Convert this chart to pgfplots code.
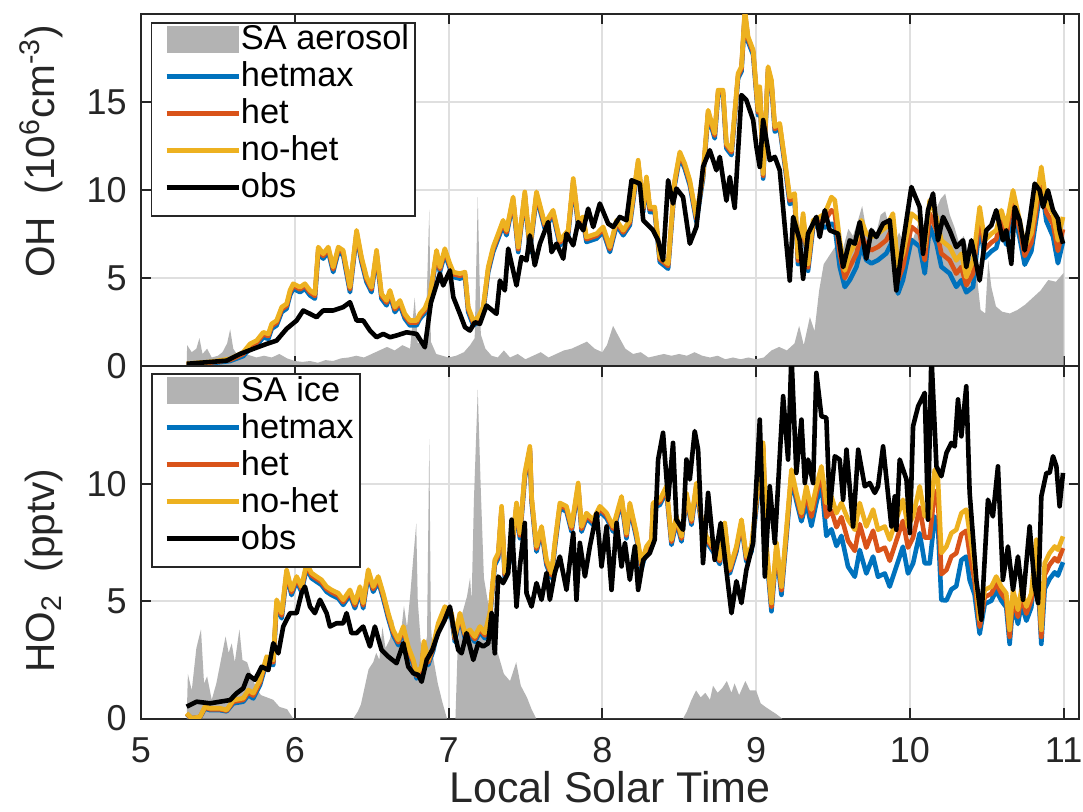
\documentclass[border=0pt]{standalone}
\usepackage{fontspec}
\setmainfont{Liberation Sans}
\usepackage{pgfplots}
\usepackage{pgfplotstable}
\pgfplotsset{compat=1.18}

\definecolor{mblue}{rgb}{0,0.447,0.741}
\definecolor{morange}{rgb}{0.85,0.325,0.098}
\definecolor{myellow}{rgb}{0.929,0.694,0.125}
\definecolor{sagray}{RGB}{179,179,179}
\definecolor{gridc}{RGB}{223,223,223}
\definecolor{axc}{RGB}{38,38,38}

% model runs for OH: time, no-het, het, hetmax
\pgfplotstableread{
x nohet het hetmax
5.297 0.15 0.12 0.09
5.450 0.25 0.21 0.17
5.579 0.42 0.36 0.30
5.665 0.80 0.70 0.58
5.709 1.27 1.16 1.02
5.752 1.46 1.34 1.18
5.795 1.93 1.81 1.65
5.828 1.84 1.72 1.56
5.850 2.41 2.29 2.13
5.882 2.60 2.48 2.32
5.915 3.36 3.24 3.08
5.947 3.55 3.43 3.27
5.969 4.31 4.19 4.03
5.990 4.69 4.57 4.41
6.034 4.49 4.37 4.21
6.066 4.69 4.57 4.41
6.099 4.31 4.19 4.03
6.131 4.12 4.00 3.84
6.153 6.77 6.65 6.49
6.185 6.39 6.27 6.11
6.218 6.77 6.65 6.49
6.250 5.63 5.51 5.35
6.283 6.77 6.65 6.49
6.315 6.58 6.46 6.30
6.359 4.49 4.37 4.21
6.402 7.72 7.60 7.44
6.434 6.20 6.08 5.92
6.467 5.06 4.94 4.78
6.499 4.49 4.37 4.21
6.532 6.58 6.46 6.30
6.564 4.12 4.00 3.84
6.597 3.74 3.62 3.46
6.619 4.31 4.19 4.03
6.651 3.36 3.24 3.08
6.684 3.74 3.62 3.46
6.716 2.98 2.86 2.70
6.749 2.60 2.48 2.32
6.792 2.60 2.48 2.32
6.814 2.98 2.86 2.70
6.846 3.30 3.18 3.02
6.879 4.00 3.88 3.72
6.922 6.58 6.46 6.30
6.944 5.63 5.51 5.35
6.976 6.68 6.56 6.40
7.009 5.82 5.70 5.54
7.031 5.35 5.23 5.07
7.074 5.26 5.14 4.98
7.107 5.35 5.23 5.07
7.128 3.36 3.24 3.08
7.161 2.60 2.48 2.32
7.193 2.79 2.67 2.51
7.225 3.36 3.24 3.08
7.258 5.63 5.51 5.35
7.290 6.77 6.65 6.49
7.323 7.53 7.41 7.25
7.355 8.29 8.17 8.01
7.377 7.72 7.60 7.44
7.420 9.61 9.49 9.33
7.453 6.77 6.65 6.49
7.496 9.90 9.78 9.62
7.529 6.77 6.65 6.49
7.572 9.90 9.78 9.62
7.626 8.10 7.98 7.82
7.680 8.86 8.74 8.58
7.724 7.15 7.03 6.87
7.778 7.72 7.60 7.44
7.811 10.66 10.54 10.38
7.843 8.29 8.17 8.01
7.876 8.48 8.36 8.20
7.897 7.34 7.22 7.06
7.963 7.53 7.41 7.25
8.006 7.91 7.79 7.63
8.049 6.77 6.65 6.49
8.093 8.29 8.17 8.01
8.136 7.72 7.60 7.44
8.179 8.29 8.17 8.01
8.233 11.70 11.58 11.42
8.266 9.04 8.92 8.76
8.287 10.75 10.63 10.47
8.309 9.04 8.92 8.76
8.341 9.04 8.92 8.76
8.374 6.20 6.08 5.92
8.428 5.82 5.70 5.54
8.471 10.56 10.44 10.28
8.504 12.17 12.05 11.89
8.536 11.51 11.39 11.23
8.569 10.56 10.44 10.28
8.612 8.48 8.36 8.20
8.655 10.94 10.82 10.66
8.688 14.54 14.42 14.26
8.731 13.22 13.10 12.94
8.753 15.68 15.56 15.40
8.785 15.68 15.56 15.40
8.807 12.65 12.53 12.37
8.840 12.27 12.15 11.99
8.883 16.63 16.51 16.35
8.905 17.01 16.89 16.73
8.927 20.20 20.08 19.92
8.948 18.71 18.59 18.43
8.981 17.96 17.84 17.68
9.013 14.54 14.42 14.26
9.024 15.87 15.75 15.59
9.046 10.94 10.82 10.66
9.078 17.01 16.89 16.73
9.100 16.25 16.13 15.97
9.122 13.60 13.48 13.32
9.154 13.79 13.67 13.51
9.187 11.70 11.58 11.42
9.219 9.61 9.41 9.21
9.251 9.81 9.61 9.41
9.273 6.20 6.00 5.80
9.306 8.67 8.47 8.27
9.338 5.82 5.62 5.42
9.371 8.29 8.09 7.89
9.414 8.48 8.28 8.08
9.447 8.67 8.27 7.87
9.490 9.61 8.86 8.11
9.512 9.43 8.68 7.93
9.544 7.15 6.40 5.65
9.577 5.44 5.00 4.50
9.609 6.39 5.64 4.89
9.653 7.15 6.40 5.65
9.685 8.29 7.54 6.79
9.717 7.53 6.78 6.03
9.750 7.34 6.59 5.84
9.793 7.53 6.78 6.03
9.847 7.91 7.16 6.41
9.890 8.67 7.92 7.17
9.923 5.63 4.88 4.13
9.955 6.39 5.64 4.89
10.010 8.67 7.92 7.17
10.064 8.29 7.54 6.79
10.097 6.77 6.02 5.27
10.129 9.43 8.68 7.93
10.173 8.48 7.73 6.98
10.205 7.15 6.40 5.65
10.259 6.77 6.02 5.27
10.302 6.01 5.26 4.51
10.335 6.39 5.64 4.89
10.367 5.06 4.60 4.20
10.411 6.01 5.26 4.51
10.454 9.04 8.54 8.04
10.487 7.15 6.65 6.15
10.530 7.53 7.03 6.53
10.562 7.72 7.22 6.72
10.595 8.86 8.36 7.86
10.627 7.91 7.41 6.91
10.671 9.99 9.49 8.99
10.714 8.29 7.79 7.29
10.747 6.77 6.27 5.77
10.790 7.53 7.03 6.53
10.823 9.43 8.93 8.43
10.855 11.32 10.82 10.32
10.888 9.24 8.74 8.24
10.931 8.67 8.07 7.37
10.963 7.15 6.55 5.85
10.996 8.48 7.78 7.08
}\ohmodel

% model runs for HO2: time, no-het, het, hetmax
\pgfplotstableread{
x nohet het hetmax
5.297 0.23 0.21 0.19
5.330 0.01 0.01 0.01
5.384 0.08 0.07 0.06
5.416 0.51 0.47 0.43
5.449 0.44 0.40 0.36
5.514 0.44 0.40 0.36
5.557 0.37 0.34 0.31
5.600 0.79 0.72 0.65
5.665 0.87 0.80 0.72
5.698 1.22 1.12 1.00
5.730 1.08 0.98 0.86
5.774 1.65 1.55 1.43
5.817 2.64 2.54 2.42
5.860 2.50 2.40 2.28
5.882 5.06 4.96 4.84
5.915 4.49 4.39 4.27
5.947 6.34 6.24 6.12
5.979 5.48 5.38 5.26
6.012 6.05 5.95 5.83
6.044 5.62 5.52 5.40
6.077 6.62 6.52 6.40
6.109 6.20 6.10 5.98
6.142 6.05 5.95 5.83
6.174 5.91 5.81 5.69
6.207 5.62 5.52 5.40
6.239 5.48 5.38 5.26
6.283 5.34 5.24 5.12
6.315 5.06 4.96 4.84
6.359 5.48 5.38 5.26
6.391 4.92 4.82 4.70
6.424 5.62 5.52 5.40
6.445 4.92 4.82 4.70
6.478 6.34 6.24 6.12
6.510 5.62 5.52 5.40
6.543 6.05 5.95 5.83
6.575 5.34 5.24 5.12
6.608 4.49 4.39 4.27
6.640 3.78 3.68 3.56
6.673 3.35 3.25 3.13
6.706 3.92 3.82 3.70
6.738 3.07 2.97 2.85
6.771 2.50 2.40 2.28
6.792 1.93 1.83 1.71
6.825 2.21 2.11 1.99
6.840 3.30 3.20 3.08
6.868 2.50 2.40 2.28
6.900 3.10 3.00 2.88
6.933 4.06 3.96 3.84
6.976 4.77 4.67 4.55
7.020 4.49 4.39 4.27
7.041 3.49 3.39 3.27
7.074 4.49 4.39 4.27
7.107 3.64 3.54 3.42
7.139 3.78 3.68 3.56
7.171 3.49 3.39 3.27
7.204 3.92 3.82 3.70
7.236 3.64 3.54 3.42
7.269 4.49 4.39 4.27
7.301 6.76 6.66 6.54
7.323 7.05 6.95 6.83
7.345 9.04 8.94 8.82
7.366 6.20 6.10 5.98
7.410 7.19 7.09 6.97
7.442 9.18 9.08 8.96
7.464 7.90 7.80 7.68
7.496 10.46 10.36 10.24
7.529 11.59 11.49 11.37
7.540 9.46 9.36 9.24
7.572 7.33 7.23 7.11
7.605 8.18 8.08 7.96
7.637 6.76 6.66 6.54
7.670 6.20 6.10 5.98
7.691 7.48 7.38 7.26
7.724 9.18 9.08 8.96
7.767 9.04 8.94 8.82
7.800 8.18 8.08 7.96
7.843 10.03 9.93 9.81
7.865 8.18 8.08 7.96
7.897 8.75 8.65 8.53
7.941 8.47 8.37 8.25
7.984 9.04 8.94 8.82
8.028 8.75 8.65 8.53
8.071 8.18 8.08 7.96
8.125 9.46 9.36 9.24
8.157 7.90 7.80 7.68
8.179 9.18 9.08 8.96
8.222 7.90 7.80 7.68
8.255 6.62 6.52 6.40
8.287 7.33 7.23 7.11
8.320 7.62 7.52 7.40
8.330 9.18 9.08 8.96
8.374 9.32 9.22 9.10
8.417 9.89 9.79 9.67
8.450 7.62 7.52 7.40
8.482 8.61 8.51 8.39
8.515 7.76 7.66 7.54
8.547 9.61 9.51 9.39
8.580 8.47 8.37 8.25
8.612 10.03 9.93 9.81
8.645 8.47 8.37 8.25
8.677 7.76 7.66 7.54
8.720 7.33 7.23 7.11
8.764 6.80 6.70 6.58
8.796 8.33 8.23 8.11
8.829 6.40 6.30 6.18
8.872 7.33 7.23 7.11
8.905 8.47 8.37 8.25
8.937 6.90 6.80 6.68
8.970 7.33 7.23 7.11
9.002 9.32 9.17 8.97
9.046 11.74 11.59 11.39
9.068 7.33 7.18 6.98
9.100 4.92 4.77 4.57
9.133 7.48 7.33 7.13
9.165 5.62 5.47 5.27
9.197 8.04 7.89 7.69
9.230 10.60 10.45 10.25
9.262 9.61 9.46 9.26
9.295 8.75 8.60 8.40
9.327 9.89 9.59 9.19
9.360 8.90 8.60 8.20
9.392 9.89 9.59 9.19
9.425 10.74 10.44 10.04
9.457 9.18 8.58 7.78
9.490 9.46 8.86 8.06
9.523 8.75 8.15 7.35
9.555 9.18 8.58 7.78
9.598 8.47 7.57 6.47
9.642 8.04 7.14 6.04
9.674 9.18 8.28 7.18
9.717 8.18 7.28 6.18
9.761 8.90 8.00 6.90
9.793 8.04 7.14 6.04
9.837 8.18 7.28 6.18
9.869 7.62 6.72 5.62
9.912 8.47 7.57 6.47
9.955 9.32 8.42 7.32
9.988 8.18 7.28 6.18
10.021 8.61 7.71 6.61
10.064 9.89 8.99 7.89
10.097 8.61 7.71 6.61
10.129 8.61 7.71 6.61
10.162 10.60 9.70 8.60
10.183 10.18 9.28 8.18
10.205 7.05 6.15 5.05
10.238 7.33 6.33 5.03
10.270 7.90 6.90 5.50
10.302 8.04 7.04 5.64
10.335 8.75 7.85 6.75
10.367 8.90 8.00 6.90
10.389 7.90 7.00 5.90
10.421 6.48 5.88 5.28
10.454 4.21 3.91 3.61
10.487 5.48 5.18 4.88
10.530 5.62 5.32 5.02
10.562 6.05 5.75 5.45
10.595 5.62 5.32 5.02
10.627 5.34 5.04 4.74
10.649 3.78 3.48 3.18
10.671 5.48 5.18 4.88
10.703 4.63 4.33 4.03
10.725 5.48 5.18 4.88
10.758 4.77 4.47 4.17
10.790 5.34 5.04 4.74
10.823 7.62 7.32 7.02
10.855 3.78 3.48 3.18
10.877 6.62 6.12 5.52
10.909 7.05 6.55 5.95
10.942 7.33 6.83 6.23
10.963 7.19 6.69 6.09
10.996 7.76 7.26 6.66
}\hotwomodel

\pgfplotsset{
  panel/.style={
    scale only axis, width=469pt, height=176.15pt,
    xmin=5, xmax=11.1, ymin=0,
    xtick={5,6,7,8,9,10,11},
    grid=major,
    major grid style={line width=1pt, color=gridc},
    axis line style={line width=1pt, color=axc},
    every tick/.style={line width=1pt, color=axc},
    major tick length=5.2pt,
    tick align=inside,
    /pgf/number format/assume math mode=true,
    tick label style={font=\fontsize{18}{18}\selectfont, text=axc},
    yticklabel style={inner sep=0pt, xshift=-7pt},
    xticklabel style={inner sep=0pt, yshift=-9.2pt},
    label style={text=axc},
    ylabel style={anchor=base, font=\fontsize{20.3}{20.3}\selectfont},
    legend cell align=left,
    legend style={
      at={(axis description cs:0,1)}, anchor=north west,
      draw=axc, line width=0.9pt, fill=white,
      inner xsep=3pt, inner ysep=1.5pt,
      font=\fontsize{17.2}{17.2}\selectfont, text=black,
      row sep=0pt,
      nodes={inner sep=0pt, text height=11pt, text depth=7.5pt},
      /tikz/every even column/.append style={column sep=4.5pt},
    },
  },
  lineimg/.style={legend image code/.code={%
      \path[draw=none, fill=none] (0pt,3.5pt) -- (4.5pt,3.5pt);
      \draw[##1] (4.5pt,3.5pt) -- (40.5pt,3.5pt);}},
  areaimg/.style={legend image code/.code={%
      \path[draw=none, fill=none] (0pt,3.5pt) -- (4.5pt,3.5pt);
      \fill[sagray, draw=none] (4.5pt,-3.25pt) rectangle (40.5pt,10.25pt);}},
  run/.style={line width=2.3pt, line join=round, lineimg},
}

\begin{document}
\begin{tikzpicture}
\useasboundingbox (0,0) rectangle (541.5pt,405.5pt);

% ---------------- OH ----------------
\begin{axis}[panel, at={(70.5pt,222.35pt)},
  ymax=20, ytick={0,5,10,15}, xticklabels={},
  ylabel={OH\ \ (10\textsuperscript{6}cm\textsuperscript{-3})},
  ylabel style={at={(axis description cs:-0.0917,0.61)}},
  legend style={xshift=4.85pt, yshift=-4pt},
]
\addplot[fill=sagray, draw=none, areaimg] table {
5.297 0
5.30 1.2
5.33 0.8
5.36 1.0
5.38 1.6
5.40 0.7
5.43 1.0
5.46 0.5
5.50 0.6
5.53 0.8
5.56 1.3
5.58 2.1
5.60 1.0
5.63 0.6
5.68 0.7
5.75 0.5
5.80 0.6
5.85 0.5
5.90 0.7
5.95 0.45
6.00 0.3
6.05 0.25
6.10 0.3
6.15 0.2
6.20 0.35
6.25 0.3
6.30 0.45
6.35 0.5
6.40 0.6
6.45 0.5
6.50 0.7
6.55 0.9
6.60 1.1
6.65 0.9
6.70 1.2
6.75 1.0
6.78 3.9
6.80 1.3
6.85 1.5
6.875 8.9
6.885 1.4
6.92 0.7
6.96 0.6
7.00 0.5
7.05 0.6
7.10 0.8
7.14 1.2
7.17 1.6
7.19 9.6
7.21 1.8
7.24 1.0
7.28 0.6
7.32 0.5
7.36 0.9
7.40 0.5
7.45 0.7
7.50 0.4
7.55 0.6
7.60 0.8
7.65 0.5
7.70 0.7
7.75 0.9
7.80 1.0
7.85 1.2
7.90 1.4
7.95 1.0
8.00 0.8
8.03 1.2
8.07 2.3
8.10 1.8
8.15 1.0
8.20 0.7
8.25 0.8
8.30 0.5
8.35 0.6
8.40 0.7
8.45 0.6
8.50 0.7
8.55 0.6
8.60 0.8
8.65 0.6
8.70 0.5
8.75 0.6
8.80 0.4
8.85 0.5
8.90 0.4
8.95 0.5
9.00 0.4
9.05 0.5
9.10 0.9
9.15 1.1
9.20 0.9
9.25 1.3
9.28 2.3
9.31 1.2
9.35 2.8
9.38 2.0
9.41 4.3
9.44 5.8
9.47 6.2
9.50 6.6
9.53 7.0
9.56 6.5
9.60 7.8
9.63 7.4
9.66 8.2
9.69 9.1
9.72 7.6
9.75 7.9
9.78 7.5
9.81 8.6
9.84 8.8
9.87 7.8
9.90 6.9
9.93 7.6
9.96 7.0
9.99 7.8
10.02 7.2
10.05 8.0
10.08 7.8
10.11 8.7
10.14 8.2
10.17 8.9
10.20 9.5
10.23 9.8
10.26 8.6
10.29 7.9
10.32 7.0
10.35 7.4
10.38 6.6
10.40 6.0
10.43 5.6
10.46 3.2
10.49 3.0
10.51 6.0
10.53 4.5
10.56 3.4
10.60 3.1
10.65 3.0
10.70 3.2
10.75 3.5
10.80 3.9
10.85 4.3
10.90 4.9
10.95 4.8
11.00 5.3
} \closedcycle;
\addplot[run, mblue]   table[x=x, y=hetmax] {\ohmodel};
\addplot[run, morange] table[x=x, y=het]    {\ohmodel};
\addplot[run, myellow] table[x=x, y=nohet]  {\ohmodel};
\addplot[run, black] table {
5.297 0.14
5.427 0.23
5.557 0.32
5.644 0.70
5.730 0.99
5.817 1.27
5.882 1.46
5.947 2.13
6.012 2.60
6.055 3.17
6.099 2.98
6.142 2.79
6.185 3.17
6.250 3.17
6.315 3.36
6.359 3.64
6.402 2.60
6.445 2.60
6.489 2.03
6.532 1.65
6.575 1.84
6.619 1.65
6.662 1.75
6.727 1.93
6.792 1.84
6.846 1.08
6.885 3.60
6.944 5.26
6.965 4.59
7.009 5.44
7.031 3.93
7.074 2.98
7.107 2.22
7.139 2.03
7.171 2.50
7.204 2.41
7.247 3.45
7.312 2.98
7.334 4.87
7.366 4.31
7.388 6.68
7.420 5.44
7.442 4.59
7.474 6.20
7.507 6.01
7.529 7.43
7.561 5.73
7.594 6.96
7.648 8.19
7.670 6.48
7.702 6.96
7.746 6.11
7.767 7.53
7.811 6.87
7.843 8.19
7.876 7.72
7.908 8.95
7.941 7.91
7.984 9.24
8.038 8.10
8.071 7.91
8.114 8.48
8.157 8.29
8.190 10.56
8.244 10.37
8.266 8.29
8.309 7.91
8.330 7.72
8.363 7.15
8.395 6.01
8.428 10.56
8.460 9.24
8.482 10.09
8.525 9.61
8.569 6.96
8.612 7.91
8.655 11.32
8.699 12.27
8.742 11.13
8.764 11.89
8.807 9.40
8.829 10.75
8.861 9.00
8.905 15.40
8.937 15.11
8.981 13.98
9.002 12.46
9.024 11.32
9.046 13.98
9.089 11.70
9.122 11.89
9.154 11.13
9.187 7.91
9.219 4.87
9.241 8.48
9.284 7.15
9.306 4.97
9.338 7.53
9.392 8.48
9.414 7.34
9.447 8.86
9.479 7.72
9.533 7.53
9.566 5.63
9.609 7.15
9.642 6.96
9.674 8.19
9.717 6.11
9.750 7.72
9.782 7.34
9.826 8.10
9.869 8.29
9.912 4.31
9.945 6.39
10.010 10.18
10.064 9.04
10.086 6.39
10.118 8.86
10.151 9.81
10.183 7.15
10.216 8.48
10.259 7.72
10.302 6.77
10.346 7.15
10.367 5.63
10.400 7.15
10.454 4.87
10.497 7.72
10.530 8.00
10.562 8.86
10.605 7.15
10.627 7.72
10.660 5.82
10.682 9.04
10.714 8.29
10.747 6.58
10.779 8.29
10.812 10.37
10.844 9.99
10.866 9.04
10.898 9.99
10.931 8.86
10.963 8.38
10.974 7.72
10.996 6.96
};
\legend{SA aerosol, hetmax, het, no-het, obs}
\end{axis}

% ---------------- HO2 ----------------
\begin{axis}[panel, at={(70.5pt,46.2pt)},
  ymax=15, ytick={0,5,10},
  xlabel={Local Solar Time},
  xlabel style={at={(axis description cs:0.5,0)}, anchor=north,
    inner sep=0pt, yshift=-26.2pt, font=\fontsize{21.5}{21.5}\selectfont},
  ylabel={HO\textsubscript{2}\ \ (pptv)},
  ylabel style={at={(axis description cs:-0.0917,0.42)}},
  legend style={xshift=4.85pt, yshift=-3.5pt},
]
\addplot[fill=sagray, draw=none, areaimg] table {
5.297 0
5.305 1.9
5.33 1.2
5.36 3.0
5.39 3.8
5.41 1.5
5.43 1.8
5.46 0.8
5.49 1.5
5.52 2.5
5.55 3.5
5.57 2.8
5.59 3.2
5.61 2.4
5.64 3.8
5.66 2.5
5.69 2.4
5.72 1.8
5.75 1.3
5.78 1.0
5.82 0.9
5.86 0.8
5.90 0.5
5.95 0.4
5.99 0
6.38 0
6.41 0.3
6.43 0.6
6.45 1.2
6.48 2.1
6.51 2.4
6.53 2.8
6.55 2.5
6.57 3.9
6.59 3.0
6.62 3.4
6.64 4.2
6.66 3.2
6.69 3.6
6.71 4.8
6.73 3.9
6.75 5.2
6.77 6.8
6.79 8.3
6.80 5.0
6.82 3.2
6.84 2.8
6.86 3.5
6.875 11.9
6.885 4.0
6.90 2.6
6.93 1.5
6.96 0.7
6.99 0
7.045 0
7.06 3.2
7.09 4.5
7.12 5.2
7.14 6.0
7.15 5.0
7.165 9.3
7.19 14.0
7.21 9.7
7.23 6.0
7.26 4.8
7.29 3.5
7.32 2.8
7.36 1.9
7.40 1.6
7.44 2.4
7.47 1.4
7.51 0.9
7.54 0.4
7.57 0
8.525 0
8.55 0.3
8.58 0.8
8.61 1.2
8.64 0.9
8.67 1.1
8.70 0.8
8.72 1.4
8.75 1.1
8.78 1.3
8.81 1.6
8.84 1.1
8.86 1.5
8.89 1.0
8.93 1.6
8.96 1.2
9.00 1.2
9.03 0.65
9.06 0.5
9.09 0.37
9.13 0.2
9.17 0
11.00 0
} \closedcycle;
\addplot[run, mblue]   table[x=x, y=hetmax] {\hotwomodel};
\addplot[run, morange] table[x=x, y=het]    {\hotwomodel};
\addplot[run, myellow] table[x=x, y=nohet]  {\hotwomodel};
\addplot[run, black] table {
5.297 0.51
5.362 0.72
5.449 0.65
5.514 0.72
5.579 0.79
5.622 1.08
5.665 1.29
5.698 1.86
5.741 1.65
5.785 2.21
5.828 2.07
5.860 3.21
5.893 2.78
5.925 3.92
5.969 4.49
6.012 4.49
6.044 5.34
6.066 5.62
6.099 4.77
6.131 4.49
6.164 5.06
6.207 4.49
6.229 3.92
6.272 4.06
6.315 4.06
6.337 4.49
6.369 3.64
6.402 3.64
6.445 3.92
6.489 3.07
6.521 3.92
6.564 2.93
6.608 2.64
6.662 2.36
6.706 3.21
6.738 2.21
6.771 1.93
6.803 1.86
6.825 1.57
6.858 2.50
6.895 2.93
6.933 3.64
6.976 4.21
7.009 4.77
7.031 3.92
7.063 2.93
7.085 2.78
7.117 3.64
7.161 2.50
7.193 3.21
7.225 3.07
7.258 3.21
7.280 4.49
7.301 2.78
7.323 6.05
7.355 5.77
7.388 6.20
7.410 8.47
7.442 4.77
7.464 6.48
7.496 8.33
7.507 5.34
7.540 4.77
7.572 5.77
7.605 5.06
7.637 6.20
7.659 5.06
7.691 6.20
7.724 6.90
7.767 5.48
7.811 7.90
7.832 5.06
7.854 7.48
7.887 6.05
7.919 7.33
7.963 8.75
7.995 6.48
8.028 8.18
8.060 5.48
8.093 8.33
8.125 6.48
8.147 7.48
8.179 5.91
8.212 7.33
8.233 5.48
8.266 6.76
8.309 7.05
8.341 7.62
8.363 11.03
8.395 12.17
8.428 9.32
8.460 11.74
8.482 8.47
8.525 8.04
8.547 11.03
8.569 10.18
8.601 12.24
8.623 11.45
8.655 6.62
8.688 9.61
8.731 6.76
8.770 8.33
8.807 6.30
8.840 4.49
8.872 5.85
8.905 4.92
8.937 6.34
8.981 7.48
9.024 12.73
9.057 6.05
9.089 9.89
9.122 7.48
9.176 13.73
9.208 11.03
9.230 15.50
9.262 10.46
9.295 12.73
9.317 10.03
9.338 11.03
9.371 10.03
9.392 14.72
9.425 12.87
9.457 12.81
9.479 8.90
9.512 11.17
9.544 11.03
9.566 9.32
9.588 11.45
9.631 8.18
9.664 11.45
9.707 9.89
9.739 10.03
9.772 9.61
9.793 9.89
9.826 11.59
9.880 8.18
9.902 9.46
9.912 8.04
9.934 11.03
9.978 10.18
10.000 7.90
10.021 12.45
10.054 13.30
10.097 13.87
10.118 8.47
10.140 15.50
10.173 10.74
10.205 10.32
10.238 11.31
10.270 11.74
10.292 11.59
10.313 13.59
10.335 12.02
10.367 14.15
10.389 9.61
10.432 5.91
10.465 4.21
10.508 9.32
10.540 8.61
10.573 10.74
10.605 5.91
10.638 7.33
10.671 5.48
10.703 6.90
10.736 5.06
10.779 8.18
10.812 5.62
10.834 4.92
10.855 9.46
10.888 10.46
10.909 10.46
10.931 11.17
10.953 10.74
10.974 9.04
10.996 10.46
};
\legend{SA ice, hetmax, het, no-het, obs}
\end{axis}
\end{tikzpicture}
\end{document}
